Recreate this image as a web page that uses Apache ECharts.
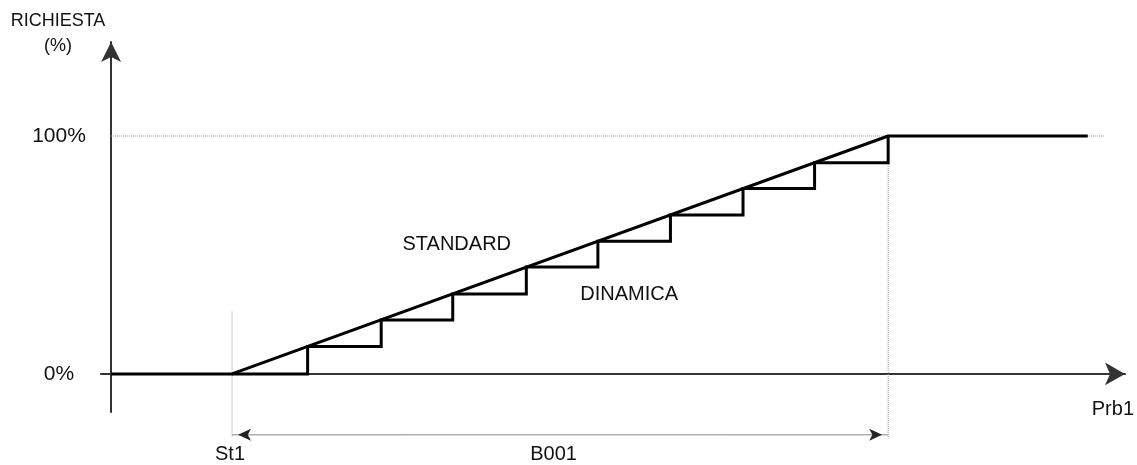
<!DOCTYPE html>
<html>
<head>
<meta charset="utf-8">
<script src="https://cdn.jsdelivr.net/npm/echarts@6/dist/echarts.min.js"></script>
<style>
html,body{margin:0;padding:0;background:#fff;}
#main{width:1137px;height:465px;}
</style>
</head>
<body>
<div id="main"></div>
<script>
// curva STANDARD (rampa) e DINAMICA (a gradini), x in unita' di Prb1, y in %
var stdX = [0, 12, 77.1, 96.9];
var stdY = [0, 0, 100, 100];
var stepX = [12, 19.5, 26.8, 33.9, 41.2, 48.3, 55.5, 62.7, 69.8, 77.1];
var stepY = [0, 11.5, 22.7, 33.6, 44.9, 55.8, 66.8, 77.9, 88.8, 100];
var yTicks = [0, 100];

// linee di riferimento tratteggiate
var guide100 = [[0, 100], [98.6, 100]];
var guideSt1 = [[12, 26.2], [12, -26.5]];
var guideEnd = [[77.1, 100], [77.1, -26.5]];
var quota = [[12, -25.6], [77.1, -25.6]];

// scritte
var noteNames = ['STANDARD', 'DINAMICA', 'St1', 'B001', 'Prb1'];
var noteX = [34.3, 51.4, 11.8, 43.9, 99.4];
var noteY = [54.6, 33.2, -34, -34, -15.1];

function pairs(xs, ys) {
    var out = [];
    for (var i = 0; i < xs.length; i++) out.push([xs[i], ys[i]]);
    return out;
}

var font = '"Liberation Sans", Arial, sans-serif';
var ink = '#111';
var dotted = {color: '#9a9a9a', width: 1, type: 'dotted'};

var chart = echarts.init(document.getElementById('main'));

var notes = [];
for (var i = 0; i < noteNames.length; i++) {
    notes.push({name: noteNames[i], value: [noteX[i], noteY[i]]});
}

var option = {
    animation: false,
    title: {
        text: 'RICHIESTA\n(%)',
        left: 58,
        top: 9,
        padding: 0,
        textAlign: 'center',
        textStyle: {fontFamily: font, fontSize: 18, fontWeight: 'normal', color: ink, lineHeight: 25}
    },
    grid: {left: 101, right: 12, top: 42, bottom: 53, outerBoundsMode: 'none', containLabel: false},
    xAxis: {
        type: 'value',
        min: -1,
        max: 100.6,
        axisLine: {
            onZero: true,
            symbol: ['none', 'arrow'],
            symbolSize: [17, 20],
            lineStyle: {color: '#333', width: 2}
        },
        axisTick: {show: false},
        axisLabel: {show: false},
        splitLine: {show: false}
    },
    yAxis: {
        type: 'value',
        min: -16,
        max: 139.5,
        axisLine: {
            show: true,
            onZero: true,
            symbol: ['none', 'arrow'],
            symbolSize: [15, 20],
            lineStyle: {color: '#333', width: 2}
        },
        axisTick: {show: false},
        axisLabel: {
            customValues: yTicks,
            formatter: '{value}%',
            fontFamily: font,
            fontSize: 21,
            color: ink,
            align: 'center',
            margin: 42
        },
        splitLine: {show: false}
    },
    series: [
        {type: 'line', data: guide100, symbol: 'none', lineStyle: dotted, silent: true, clip: false},
        {type: 'line', data: guideSt1, symbol: 'none', lineStyle: dotted, silent: true, clip: false},
        {type: 'line', data: guideEnd, symbol: 'none', lineStyle: dotted, silent: true, clip: false},
        {
            type: 'line',
            data: [
                {value: quota[0], symbolRotate: 90, symbolOffset: [6, 0]},
                {value: quota[1], symbolRotate: -90, symbolOffset: [-6, 0]}
            ],
            symbol: 'arrow',
            symbolSize: [9, 13],
            showAllSymbol: true,
            itemStyle: {color: '#222'},
            lineStyle: {color: '#888', width: 1},
            silent: true,
            clip: false
        },
        {
            name: 'DINAMICA',
            type: 'line',
            step: 'end',
            data: pairs(stepX, stepY),
            symbol: 'none',
            lineStyle: {color: '#000', width: 3, join: 'miter'},
            silent: true
        },
        {
            name: 'STANDARD',
            type: 'line',
            data: pairs(stdX, stdY),
            symbol: 'none',
            lineStyle: {color: '#000', width: 3},
            silent: true
        },
        {
            type: 'scatter',
            data: notes,
            symbolSize: 0,
            clip: false,
            silent: true,
            itemStyle: {opacity: 1},
            label: {
                show: true,
                position: 'inside',
                formatter: '{b}',
                fontFamily: font,
                fontSize: 20,
                color: ink,
                opacity: 1
            }
        }
    ]
};

chart.setOption(option);
</script>
</body>
</html>
